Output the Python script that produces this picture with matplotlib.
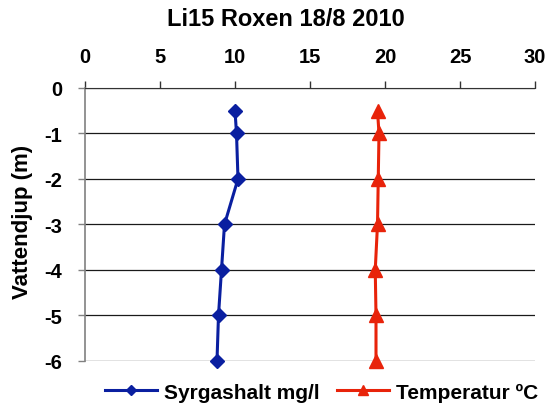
import matplotlib
matplotlib.use("Agg")
import matplotlib.pyplot as plt

plt.rcParams['font.family'] = ['Liberation Sans', 'DejaVu Sans']

depth = [-0.5, -1, -2, -3, -4, -5, -6]
oxygen = [10.0, 10.1, 10.2, 9.3, 9.1, 8.9, 8.8]
temperature = [19.5, 19.6, 19.55, 19.5, 19.35, 19.4, 19.4]
x_ticks = [0, 5, 10, 15, 20, 25, 30]
y_ticks = [0, -1, -2, -3, -4, -5, -6]

fig = plt.figure(figsize=(5.49, 4.10), dpi=100)
ax = fig.add_axes([85/549, 1-361.7/410, 450/549, (361.7-89)/410])

for y in y_ticks:
    ax.axhline(y, color='#1a1a1a', lw=0.9, zorder=1)

ax.plot(oxygen, depth, color='#0a1fa0', lw=2.2, marker='D', ms=7.5,
        label='Syrgashalt mg/l', zorder=3, clip_on=False)
ax.plot(temperature, depth, color='#e8230a', lw=2.2, marker='^', ms=10,
        label='Temperatur ºC', zorder=3, clip_on=False)

ax.set_xlim(0, 30)
ax.set_ylim(-6, 0)
ax.set_xticks(x_ticks)
ax.set_yticks(y_ticks)
ax.xaxis.tick_top()
ax.spines['right'].set_visible(False)
ax.spines['bottom'].set_visible(False)
ax.spines['top'].set_color('#333333')
ax.spines['left'].set_color('#808080')
ax.spines['left'].set_linewidth(1.2)
ax.tick_params(axis='x', direction='out', length=5, width=1, colors='#333333',
               labelcolor='black', labelsize=14.5, pad=11)
ax.tick_params(axis='y', direction='out', length=5, width=1, colors='#808080',
               labelcolor='black', labelsize=14.5, pad=11.5)
ax.set_xticklabels([str(v) for v in x_ticks], fontweight='bold')
ax.set_yticklabels([str(v) for v in y_ticks], fontweight='bold')

fig.text(23/549, 1-222/410, 'Vattendjup (m)', rotation=90, ha='center',
         va='center', fontsize=16, fontweight='bold')
fig.text(286/549, 1-20/410, 'Li15 Roxen 18/8 2010', ha='center', va='center',
         fontsize=17, fontweight='bold')

leg = fig.legend(loc='center', bbox_to_anchor=(321.5/549, 1-393/410), ncol=2,
                 frameon=False, prop={'size': 15, 'weight': 'bold'},
                 handlelength=2.5, columnspacing=0.85, handletextpad=0.33,
                 borderaxespad=0, borderpad=0)
for h in leg.legend_handles:
    h.set_markersize(7 if h.get_marker() == '^' else 5)

fig.savefig('out.png', dpi=100)
